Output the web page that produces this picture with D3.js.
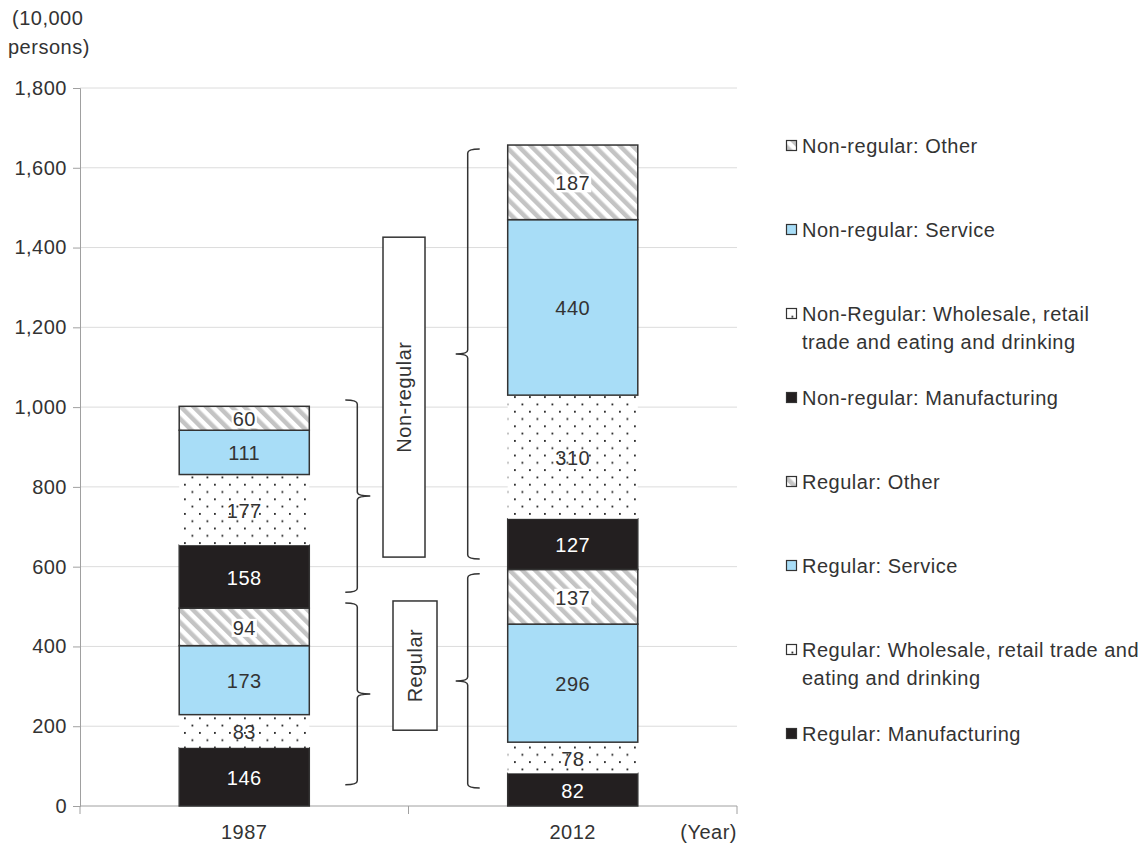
<!DOCTYPE html>
<html><head><meta charset="utf-8">
<script src="https://cdn.jsdelivr.net/npm/d3@7"></script>
<style>body{margin:0;background:#fff}svg{display:block}text{font-family:"Liberation Sans",Arial,sans-serif;fill:#333;letter-spacing:0.5px}</style>
</head><body>
<svg id="c" width="1140" height="845"></svg>
<script>
const years = ["1987", "2012"];
const seriesNames = ["Regular: Manufacturing","Regular: Wholesale, retail trade and eating and drinking","Regular: Service","Regular: Other","Non-regular: Manufacturing","Non-Regular: Wholesale, retail trade and eating and drinking","Non-regular: Service","Non-regular: Other"];
const seriesKinds = ["black","dots","blue","hatch","black","dots","blue","hatch"];
const values1987 = [146, 83, 173, 94, 158, 177, 111, 60];
const values2012 = [82, 78, 296, 137, 127, 310, 440, 187];
const yTicks = [0,200,400,600,800,1000,1200,1400,1600,1800];
const legendLines = [
  ["Non-regular: Other"],
  ["Non-regular: Service"],
  ["Non-Regular: Wholesale, retail","trade and eating and drinking"],
  ["Non-regular: Manufacturing"],
  ["Regular: Other"],
  ["Regular: Service"],
  ["Regular: Wholesale, retail trade and","eating and drinking"],
  ["Regular: Manufacturing"]
];
// braces: [year, from, to, side]
const braces = [
  {year:"1987", lo:53, hi:509, side:"right"},
  {year:"1987", lo:536, hi:1018, side:"right"},
  {year:"2012", lo:45, hi:582, side:"left"},
  {year:"2012", lo:619, hi:1647, side:"left"}
];
const groupBoxes = [
  {label:"Regular", lo:190, hi:514, x0:393, x1:437},
  {label:"Non-regular", lo:624, hi:1426, x0:383, x1:425}
];

const FS = 20;
const svg = d3.select("#c");
const y = d3.scaleLinear().domain([0,1800]).range([806,88]);
const x = d3.scaleBand().domain(years).range([80,737]).paddingInner(0.604).paddingOuter(0.302);

const defs = svg.append("defs");
const ph = defs.append("pattern").attr("id","hatch").attr("patternUnits","userSpaceOnUse")
  .attr("width",9).attr("height",9).attr("patternTransform","rotate(-45)");
ph.append("rect").attr("width",9).attr("height",9).attr("fill","#fff");
ph.append("rect").attr("x",0).attr("width",4.5).attr("height",9).attr("fill","#c4c4c4");
const pd = defs.append("pattern").attr("id","dots").attr("patternUnits","userSpaceOnUse")
  .attr("width",15).attr("height",14.6).attr("x",3).attr("y",0);
pd.append("rect").attr("width",15).attr("height",14.6).attr("fill","#fff");
pd.append("rect").attr("x",1).attr("y",2).attr("width",1.8).attr("height",1.8).attr("fill","#222");
pd.append("rect").attr("x",8.5).attr("y",9.3).attr("width",1.8).attr("height",1.8).attr("fill","#222");

const fillOf = k => k==="black" ? "#231f20" : k==="blue" ? "#a8ddf7" : k==="dots" ? "url(#dots)" : "url(#hatch)";

// gridlines
svg.append("g").selectAll("line").data(yTicks.filter(d=>d>0)).join("line")
  .attr("x1",80).attr("x2",737).attr("y1",d=>y(d)).attr("y2",d=>y(d))
  .attr("stroke","#dcdcdc").attr("stroke-width",1);

// y axis
const ya = svg.append("g").attr("transform","translate(80,0)")
  .call(d3.axisLeft(y).tickValues(yTicks).tickFormat(d3.format(",")).tickSize(7).tickPadding(6));
ya.select(".domain").attr("stroke","#a0a0a0");
ya.selectAll(".tick line").attr("stroke","#a0a0a0");
ya.selectAll("text").attr("font-size",FS).attr("fill","#333").style("font-family","Liberation Sans, Arial, sans-serif");

// x axis
svg.append("line").attr("x1",80).attr("x2",737).attr("y1",y(0)).attr("y2",y(0)).attr("stroke","#a0a0a0");
const step = x.step();
const xTickPos = [x.range()[0], x(years[0]) + x.bandwidth()/2 + step/2, x.range()[1]];
svg.append("g").selectAll("line").data(xTickPos).join("line")
  .attr("x1",d=>d).attr("x2",d=>d).attr("y1",y(0)).attr("y2",y(0)+8).attr("stroke","#a0a0a0");
svg.append("g").selectAll("text").data(years).join("text")
  .attr("x",d=>x(d)+x.bandwidth()/2).attr("y",839).attr("text-anchor","middle").attr("font-size",FS).text(d=>d);
svg.append("text").attr("x",737).attr("y",839).attr("text-anchor","end").attr("font-size",FS).text("(Year)");

// y title
svg.append("text").attr("x",12).attr("y",25).attr("font-size",FS).text("(10,000");
svg.append("text").attr("x",8).attr("y",54).attr("font-size",FS).text("persons)");

// bars
const dataByYear = {"1987":values1987,"2012":values2012};
years.forEach(yr => {
  const vals = dataByYear[yr];
  let acc = 0;
  const segs = vals.map((v,i)=>{const s={i,v,y0:acc,y1:acc+v,kind:seriesKinds[i]}; acc+=v; return s;});
  const g = svg.append("g");
  g.selectAll("rect").data(segs).join("rect")
    .attr("x",x(yr)).attr("width",x.bandwidth())
    .attr("y",d=>y(d.y1)).attr("height",d=>y(d.y0)-y(d.y1))
    .attr("fill",d=>fillOf(d.kind))
    .attr("stroke",d=>d.kind==="dots" ? "none" : "#333").attr("stroke-width",1.5);
  const cx = x(yr)+x.bandwidth()/2;
  segs.forEach(d=>{
    const cy = (y(d.y0)+y(d.y1))/2;
    const t = g.append("text").attr("x",cx).attr("y",cy+1).attr("text-anchor","middle")
      .attr("dominant-baseline","central").attr("font-size",FS)
      .style("fill", d.kind==="black" ? "#fff" : "#333").text(d.v);
    if (d.kind==="hatch") {
      const bb = t.node().getBBox();
      g.insert("rect", () => t.node()).attr("x",bb.x-1).attr("y",bb.y+2).attr("width",bb.width+2).attr("height",bb.height-4).attr("fill","#fff");
    }
  });
});

// braces
const bg = svg.append("g").attr("fill","none").attr("stroke","#333").attr("stroke-width",1.5);
braces.forEach(b=>{
  const y0 = y(b.hi), y1 = y(b.lo), ym = (y0+y1)/2, r = 4;
  let xe, xv, xt;
  if (b.side==="right") { xe = x(b.year)+x.bandwidth()+36; xv = xe+12; xt = xv+13; }
  else { xe = x(b.year)-28; xv = xe-12; xt = xv-12; }
  const p = d3.path();
  p.moveTo(xe,y0); p.quadraticCurveTo(xv,y0,xv,y0+r); p.lineTo(xv,ym-r);
  p.quadraticCurveTo(xv,ym,xt,ym); p.quadraticCurveTo(xv,ym,xv,ym+r);
  p.lineTo(xv,y1-r); p.quadraticCurveTo(xv,y1,xe,y1);
  bg.append("path").attr("d",p.toString());
});

// group boxes
groupBoxes.forEach(b=>{
  svg.append("rect").attr("x",b.x0).attr("y",y(b.hi)).attr("width",b.x1-b.x0).attr("height",y(b.lo)-y(b.hi))
    .attr("fill","#fff").attr("stroke","#333").attr("stroke-width",1.5);
  const cx=(b.x0+b.x1)/2, cy=(y(b.lo)+y(b.hi))/2;
  svg.append("text").attr("transform",`translate(${cx},${cy}) rotate(-90)`).attr("text-anchor","middle")
    .attr("dominant-baseline","central").attr("font-size",FS).text(b.label);
});

// legend
const legendKinds = seriesKinds.slice().reverse();
const lg = svg.append("g");
legendLines.forEach((lines,i)=>{
  const ly = 146 + i*84;
  lg.append("rect").attr("x",786.5).attr("y",ly-5.5).attr("width",10).attr("height",10)
    .attr("fill",fillOf(legendKinds[i])).attr("stroke","#333").attr("stroke-width",1.2);
  lines.forEach((ln,j)=>{
    lg.append("text").attr("x", 802).attr("y",ly+7+j*28).attr("font-size",FS).text(ln);
  });
});
</script>
</body></html>
